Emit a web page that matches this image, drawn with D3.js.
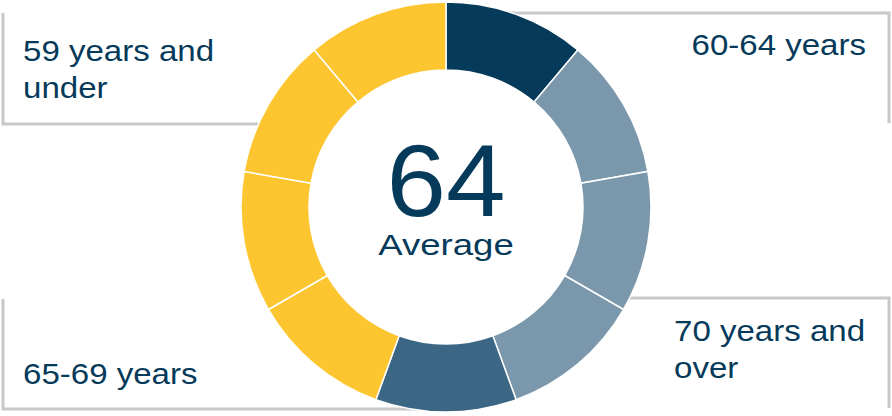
<!DOCTYPE html>
<html><head><meta charset="utf-8">
<script src="https://cdn.jsdelivr.net/npm/d3@7"></script>
<style>html,body{margin:0;padding:0;background:#fff;}svg{display:block;}</style>
</head><body>
<svg id="chart" width="892" height="416"></svg>
<script>
// Data
const segmentGroups = ["navy","grey","grey","grey","blue","yellow","yellow","yellow","yellow"];
const segmentValues = [1,1,1,1,1,1,1,1,1];
const groupColors = {navy:"#053A5A", grey:"#7A97AB", blue:"#3B6684", yellow:"#FDC530"};
const averageValue = "64";
const averageLabel = "Average";
const labelTexts = [["59 years and","under"],["60-64 years"],["65-69 years"],["70 years and","over"]];

const svg = d3.select("#chart");
const cx = 446, cy = 207, rOuter = 205, rInner = 137;
const textColor = "#063A5A", frameColor = "#C8C8CA";
const font = "Liberation Sans, Arial, sans-serif";
const labelPos = [
  {x:23, y:61, anchor:"start"},
  {x:866, y:55, anchor:"end"},
  {x:23, y:384, anchor:"start"},
  {x:674, y:341, anchor:"start"}
];

// Frames (behind donut)
const frames = [
  "M3,13 V124 H300",
  "M500,13 H889 V123",
  "M3,299 V409 H420",
  "M600,298 H889 V408"
];
svg.append("g").selectAll("path").data(frames).join("path")
  .attr("d", d=>d).attr("fill","none").attr("stroke",frameColor).attr("stroke-width",3);

// Donut
const pie = d3.pie().sort(null).startAngle(0).endAngle(2*Math.PI);
const arc = d3.arc().innerRadius(rInner).outerRadius(rOuter);
const g = svg.append("g").attr("transform",`translate(${cx},${cy})`);
g.selectAll("path").data(pie(segmentValues)).join("path")
  .attr("d", arc)
  .attr("fill", (d,i)=>groupColors[segmentGroups[i]])
  .attr("stroke","#fff").attr("stroke-width",1.5);
g.append("circle").attr("r", rInner - 0.5).attr("fill","#fff");

// Center text
svg.append("text").attr("transform",`translate(${cx},216) scale(1.05,1)`).attr("text-anchor","middle")
  .attr("font-family",font).attr("font-size",102)
  .attr("fill",textColor).text(averageValue);
svg.append("text").attr("transform",`translate(${cx},255) scale(1.22,1)`).attr("text-anchor","middle")
  .attr("font-family",font).attr("font-size",30)
  .attr("fill",textColor).text(averageLabel);

// Labels
labelTexts.forEach((lines,k)=>{
  const p = labelPos[k];
  const t = svg.append("text").attr("transform",`translate(${p.x},${p.y}) scale(1.14,1)`)
    .attr("text-anchor",p.anchor)
    .attr("font-family",font).attr("font-size",29)
    .attr("fill",textColor);
  lines.forEach((s,i)=>t.append("tspan").attr("x",0).attr("dy", i?37:0).text(s));
});
</script>
</body></html>
